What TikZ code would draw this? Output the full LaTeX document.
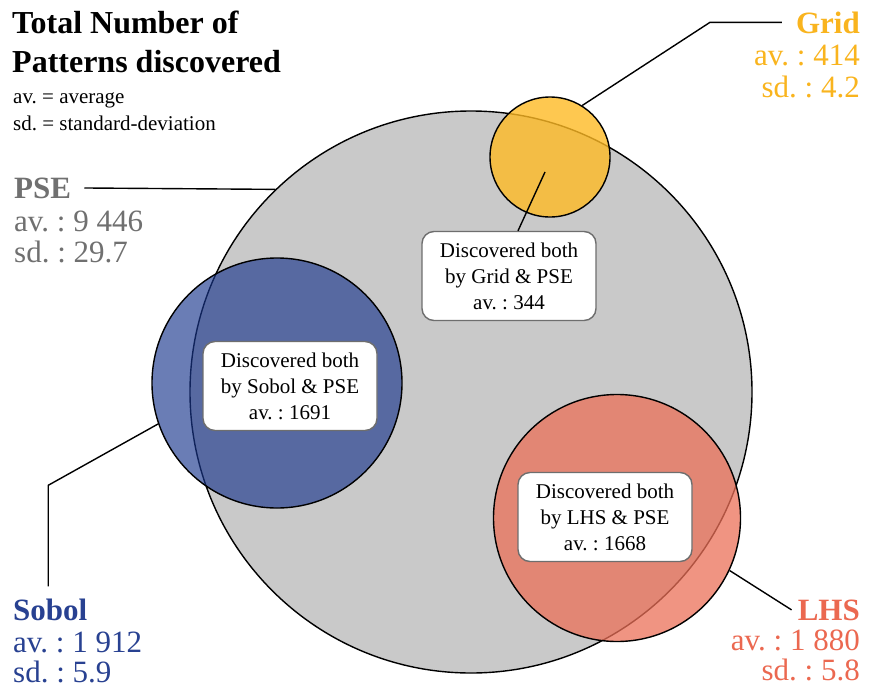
\documentclass[tikz,border=0pt]{standalone}
\usepackage{fontspec}
\setmainfont{Liberation Serif}
\usepackage{tikz}
\usetikzlibrary{positioning}
\usetikzlibrary{calc}
\frenchspacing

\definecolor{psegrey}{RGB}{112,112,112}
\definecolor{psefill}{RGB}{201,201,201}
\definecolor{gridcol}{RGB}{249,180,30}
\definecolor{gridfill}{RGB}{254,186,36}
\definecolor{sobolcol}{RGB}{40,65,145}
\definecolor{sobolfill}{RGB}{26,55,141}
\definecolor{lhscol}{RGB}{235,104,80}
\definecolor{lhsfill}{RGB}{235,112,88}
\definecolor{boxgrey}{RGB}{110,110,110}

\tikzset{
  set/.style={circle, draw=black, line width=1.4pt, inner sep=0pt},
  both/.style={draw=boxgrey, fill=white, line width=1.4pt, rounded corners=12pt,
    inner sep=0pt, minimum width=174pt, minimum height=89pt, align=center,
    font=\fontsize{21}{26}\selectfont},
  head/.style={inner sep=0pt, font=\fontsize{32}{32}\selectfont\bfseries},
  note/.style={inner sep=0pt, font=\fontsize{21}{21}\selectfont},
  lbl/.style={inner sep=0pt, font=\fontsize{31}{31}\selectfont},
  lblhead/.style={lbl, font=\fontsize{31}{31}\selectfont\bfseries},
  wire/.style={line width=1.4pt, black}
}

\begin{document}
\begin{tikzpicture}[x=1pt,y=-1pt]
  \useasboundingbox (0,0) rectangle (869,688);

  % title and legend
  \node[head, anchor=base west] (title1) at (12,33) {Total Number of};
  \node[head, anchor=base west] (title2) at (12,72) {Patterns discovered};
  \node[note, anchor=base west] (avnote) at (13,103) {av. = average};
  \node[note, anchor=base west] (sdnote) at (13,130) {sd. = standard-deviation};

  % the four sets
  \node[set, fill=psefill, minimum size=562pt] (pse) at (471,392) {};
  \node[set, fill=gridfill, fill opacity=0.8, minimum size=120pt] (grid) at (550,157) {};
  \node[set, fill=sobolfill, fill opacity=0.65, minimum size=250pt] (sobol) at (277,383) {};
  \node[set, fill=lhsfill, fill opacity=0.75, minimum size=247pt] (lhs) at (617,518) {};

  % set labels
  \node[lblhead, psegrey, anchor=base west] (pselabel) at (14,198) {PSE};
  \node[lbl, psegrey, anchor=base west] (pseav) at (14,231) {av. : 9 446};
  \node[lbl, psegrey, anchor=base west] (psesd) at (14,262) {sd. : 29.7};

  \node[lblhead, gridcol, anchor=base east] (gridlabel) at (860,33) {Grid};
  \node[lbl, gridcol, anchor=base east] (gridav) at (860,65) {av. : 414};
  \node[lbl, gridcol, anchor=base east] (gridsd) at (860,97) {sd. : 4.2};

  \node[lblhead, sobolcol, anchor=base west] (sobollabel) at (13,620) {Sobol};
  \node[lbl, sobolcol, anchor=base west] (sobolav) at (13,652) {av. : 1 912};
  \node[lbl, sobolcol, anchor=base west] (sobolsd) at (13,682) {sd. : 5.9};

  \node[lblhead, lhscol, anchor=base east] (lhslabel) at (860,620) {LHS};
  \node[lbl, lhscol, anchor=base east] (lhsav) at (860,650) {av. : 1 880};
  \node[lbl, lhscol, anchor=base east] (lhssd) at (860,680) {sd. : 5.8};

  % leaders
  \draw[wire, shorten <=13pt] (pselabel.east) -- (pse.134);
  \draw[wire] (grid.58) -- ([xshift=-86pt]gridlabel.west) -- ([xshift=-14pt]gridlabel.west);
  \draw[wire] (sobol.199.6) -- ([yshift=113pt, xshift=-2pt]sobollabel.north)
    -- ([yshift=12pt, xshift=-2pt]sobollabel.north);
  \draw[wire] (lhs.-25.5) -- ([xshift=-6pt]lhslabel.west);

  % overlaps
  \coordinate (gridpse) at (545,172);
  \node[both] (gridpsebox) at (509,276) {Discovered both\\by Grid \& PSE\\av. : 344};
  \draw[wire] (gridpse) -- ([xshift=9pt]gridpsebox.north);
  \node[both] (sobolpsebox) at (290,386) {Discovered both\\by Sobol \& PSE\\av. : 1691};
  \node[both] (lhspsebox) at (605,517) {Discovered both\\by LHS \& PSE\\av. : 1668};
\end{tikzpicture}
\end{document}
